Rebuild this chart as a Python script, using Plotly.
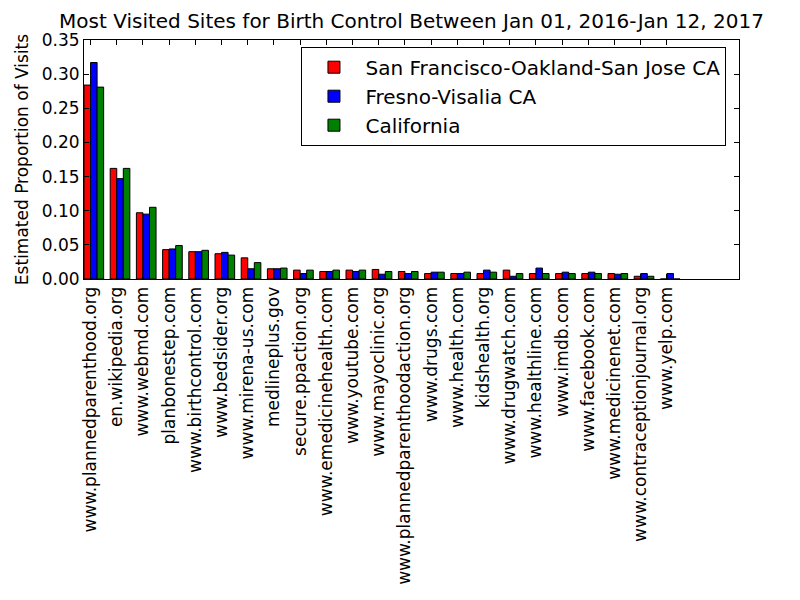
import numpy as np
import plotly.graph_objects as go

sites = ["www.plannedparenthood.org", "en.wikipedia.org", "www.webmd.com", "planbonestep.com",
         "www.birthcontrol.com", "www.bedsider.org", "www.mirena-us.com", "medlineplus.gov",
         "secure.ppaction.org", "www.emedicinehealth.com", "www.youtube.com", "www.mayoclinic.org",
         "www.plannedparenthoodaction.org", "www.drugs.com", "www.health.com", "kidshealth.org",
         "www.drugwatch.com", "www.healthline.com", "www.imdb.com", "www.facebook.com",
         "www.medicinenet.com", "www.contraceptionjournal.org", "www.yelp.com"]

sf = [0.284, 0.162, 0.097, 0.043, 0.040, 0.037, 0.031, 0.015, 0.013, 0.011, 0.013, 0.014,
      0.011, 0.008, 0.008, 0.008, 0.013, 0.008, 0.008, 0.008, 0.008, 0.004, 0.0]
fresno = [0.317, 0.147, 0.095, 0.044, 0.040, 0.039, 0.015, 0.015, 0.008, 0.011, 0.011, 0.007,
          0.008, 0.010, 0.008, 0.013, 0.004, 0.016, 0.010, 0.010, 0.007, 0.008, 0.008]
ca = [0.281, 0.162, 0.105, 0.049, 0.042, 0.035, 0.024, 0.016, 0.013, 0.013, 0.013, 0.011,
      0.011, 0.010, 0.010, 0.010, 0.008, 0.008, 0.008, 0.008, 0.008, 0.004, 0.0]

series_names = ["San Francisco-Oakland-San Jose CA", "Fresno-Visalia CA", "California"]
series_vals = [sf, fresno, ca]
colors = ["#ff0000", "#0000ff", "#008000"]

width = 0.25
ind = np.arange(len(sites))

fig = go.Figure()
for k, (name, vals, col) in enumerate(zip(series_names, series_vals, colors)):
    fig.add_trace(go.Bar(
        x=ind + k * width, y=vals, width=width, offset=0, name=name,
        marker=dict(color=col, line=dict(color="black", width=1)),
    ))

font = "DejaVu Sans"
fig.update_layout(
    width=800, height=600,
    margin=dict(l=84, r=61, t=40, b=321),
    paper_bgcolor="white", plot_bgcolor="white",
    barmode="overlay",
    font=dict(family=font, size=17, color="black"),
    title=dict(text="Most Visited Sites for Birth Control Between Jan 01, 2016-Jan 12, 2017",
               x=0.5, xref="paper", xanchor="center", y=1 - 21 / 600, yanchor="middle",
               font=dict(family=font, size=20, color="black")),
    showlegend=True,
    legend=dict(x=0.332, y=0.972, xanchor="left", yanchor="top",
                bordercolor="black", borderwidth=1, bgcolor="white",
                itemwidth=53,
                font=dict(family=font, size=20, color="black")),
    xaxis=dict(range=[0, 25], tickmode="array", tickvals=ind + width, ticktext=sites,
               tickangle=-90, ticks="inside", ticklen=5, tickcolor="black",
               showline=True, linecolor="black", linewidth=1, mirror="ticks",
               showgrid=False, zeroline=False, tickfont=dict(family=font, size=17)),
    yaxis=dict(range=[0, 0.35], tickmode="array", tickvals=[0, 0.05, 0.1, 0.15, 0.2, 0.25, 0.3, 0.35],
               tickformat=".2f", ticks="inside", ticklen=5, tickcolor="black",
               showline=True, linecolor="black", linewidth=1, mirror="ticks",
               showgrid=False, zeroline=False,
               title=dict(text="Estimated Proportion of Visits", font=dict(family=font, size=17), standoff=8),
               tickfont=dict(family=font, size=17)),
)

fig.write_html("out.html")
